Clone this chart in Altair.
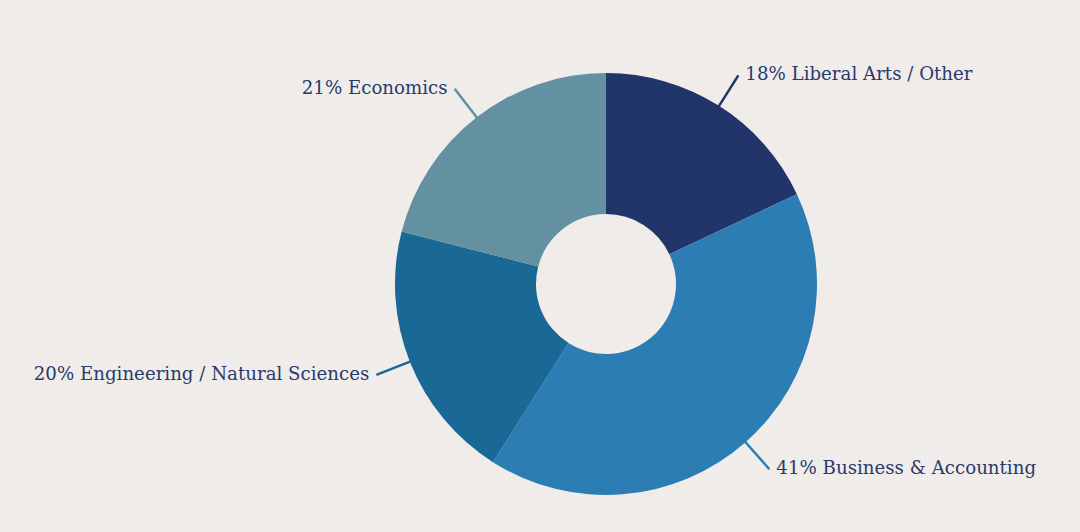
import altair as alt
import pandas as pd
import numpy as np

categories = ["Liberal Arts / Other", "Business & Accounting", "Engineering / Natural Sciences", "Economics"]
values = [18, 41, 20, 21]
colors = ["#22356a", "#2c7db4", "#1a6896", "#6391a2"]

W, H = 1080, 532
CX, CY = 606, 284
R_OUT, R_IN = 211, 70
R_L1, R_L2 = 206, 247
GAP = 7
BG = "#efecea"
TXT = "#2a3a6b"
FONT = "DejaVu Serif"
FS = 18.2

total = sum(values)
cum = np.cumsum(values)
mid = (cum - np.array(values) / 2) / total * 2 * np.pi
sx, cy_ = np.sin(mid), np.cos(mid)

df = pd.DataFrame({
    "cat": categories,
    "value": values,
    "order": list(range(len(values))),
    "label": [f"{v}% {c}" for v, c in zip(values, categories)],
    "x1": CX + R_L1 * sx,
    "y1": CY - R_L1 * cy_,
    "x2": CX + R_L2 * sx,
    "y2": CY - R_L2 * cy_,
})
df["side"] = np.where(sx >= 0, "right", "left")
df["tx"] = df["x2"] + np.where(sx >= 0, GAP, -GAP)
df["ty"] = df["y2"]

color = alt.Color("cat:N", scale=alt.Scale(domain=categories, range=colors), legend=None)
xs = alt.Scale(domain=[0, W], nice=False, zero=False)
ys = alt.Scale(domain=[0, H], nice=False, zero=False, reverse=True)

base = alt.Chart(df)

arcs = base.mark_arc(radius=R_OUT, radius2=R_IN).encode(
    theta=alt.Theta("value:Q", stack=True),
    order=alt.Order("order:Q"),
    color=color,
    x=alt.value(CX),
    y=alt.value(CY),
)

rules = base.mark_rule(strokeWidth=2.5).encode(
    x=alt.X("x1:Q", scale=xs, axis=None),
    y=alt.Y("y1:Q", scale=ys, axis=None),
    x2="x2:Q",
    y2="y2:Q",
    color=color,
)

txt_right = base.transform_filter(alt.datum.side == "right").mark_text(
    align="left", baseline="middle", font=FONT, fontSize=FS, color=TXT
).encode(
    x=alt.X("tx:Q", scale=xs, axis=None),
    y=alt.Y("ty:Q", scale=ys, axis=None),
    text="label:N",
)

txt_left = base.transform_filter(alt.datum.side == "left").mark_text(
    align="right", baseline="middle", font=FONT, fontSize=FS, color=TXT
).encode(
    x=alt.X("tx:Q", scale=xs, axis=None),
    y=alt.Y("ty:Q", scale=ys, axis=None),
    text="label:N",
)

chart = alt.layer(rules, arcs, txt_right, txt_left).properties(
    width=W, height=H, background=BG, padding=0,
    autosize=alt.AutoSizeParams(type="none"),
).configure_view(stroke=None)

chart.save("out.html", embed_options={"renderer": "svg", "actions": False})
